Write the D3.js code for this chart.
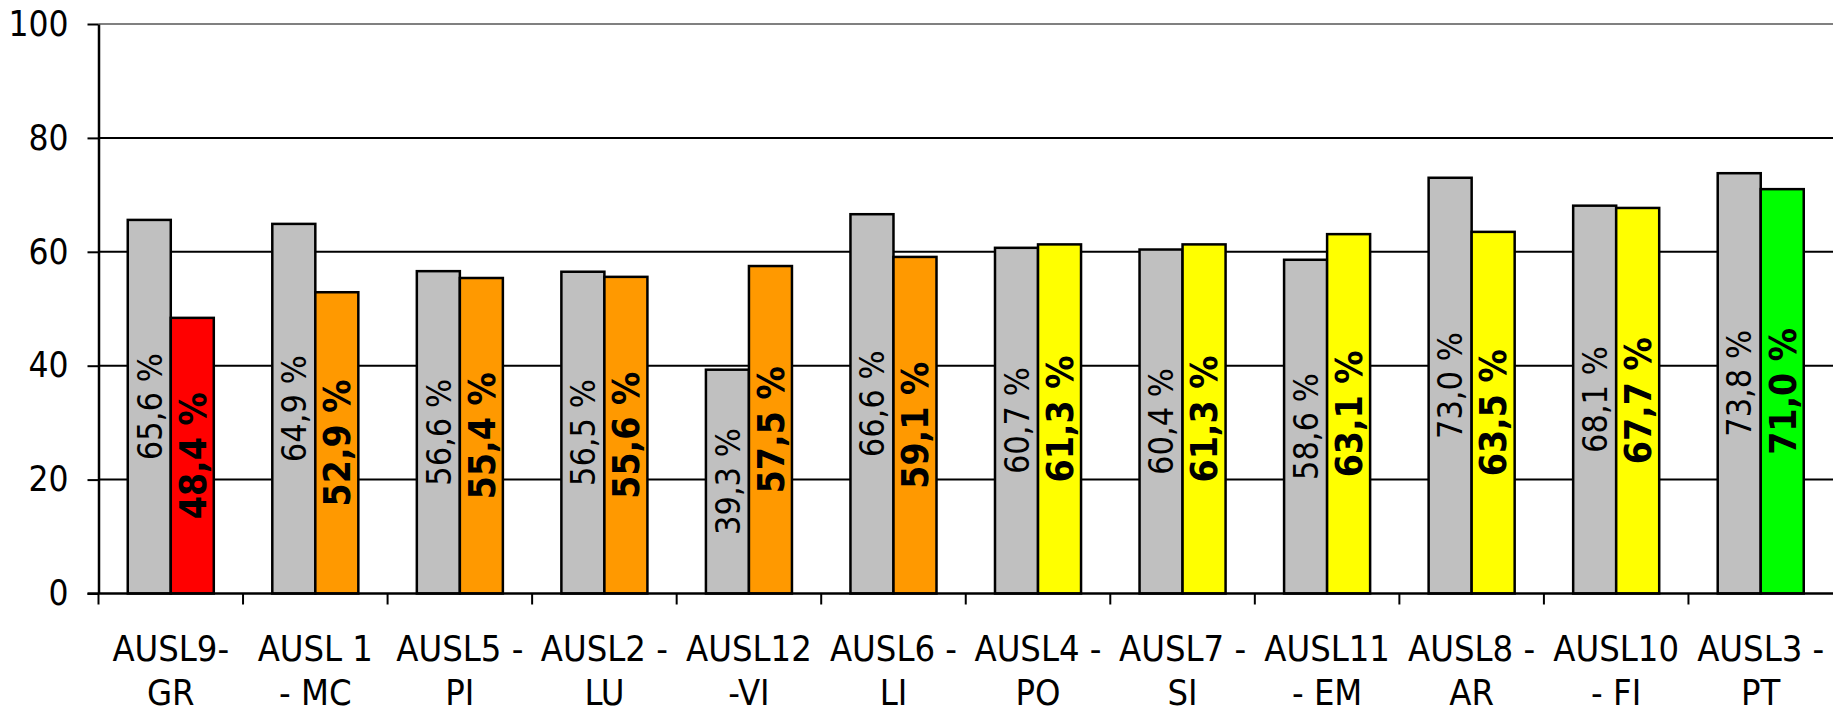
<!DOCTYPE html>
<html>
<head>
<meta charset="utf-8">
<script src="https://cdn.jsdelivr.net/npm/d3@7"></script>
<style>
  body { margin: 0; background: #fff; }
  svg text { font-family: "DejaVu Sans Condensed", "DejaVu Sans", sans-serif; }
</style>
</head>
<body>
<div id="chart"></div>
<script>
// categories (two-line labels)
const categories = ['AUSL9-|GR', 'AUSL 1|- MC', 'AUSL5 -|PI', 'AUSL2 -|LU', 'AUSL12|-VI', 'AUSL6 -|LI',
    'AUSL4 -|PO', 'AUSL7 -|SI', 'AUSL11|- EM', 'AUSL8 -|AR', 'AUSL10|- FI', 'AUSL3 -|PT']
const prevValues = [65.6, 64.9, 56.6, 56.5, 39.3, 66.6, 60.7, 60.4, 58.6, 73.0, 68.1, 73.8]
const currValues = [48.4, 52.9, 55.4, 55.6, 57.5, 59.1, 61.3, 61.3, 63.1, 63.5, 67.7, 71.0]
const currClass = ['red', 'orange', 'orange', 'orange', 'orange', 'orange',
    'yellow', 'yellow', 'yellow', 'yellow', 'yellow', 'green']
const yTicks = [0, 20, 40, 60, 80, 100]

const classColor = {red: '#ff0000', orange: '#ff9900', yellow: '#ffff00', green: '#00ff00'}

const width = 1833, height = 714
const margin = {top: 24, right: 0, bottom: 120.5, left: 98.5}

const svg = d3.select('#chart').append('svg')
    .attr('width', width)
    .attr('height', height)

const x = d3.scaleBand()
    .domain(categories)
    .range([margin.left, width - margin.right])

const xSub = d3.scaleBand()
    .domain(['prev', 'curr'])
    .range([0, x.bandwidth()])
    .paddingOuter(0.68)

const y = d3.scaleLinear()
    .domain([0, 100])
    .range([height - margin.bottom, margin.top])

// gridlines
svg.append('g').selectAll('line.grid').data(yTicks.filter(d => d > 0))
    .join('line')
    .attr('class', 'grid')
    .attr('x1', margin.left)
    .attr('x2', width)
    .attr('y1', d => y(d))
    .attr('y2', d => y(d))
    .attr('stroke', d => d === 100 ? '#808080' : '#000')
    .attr('stroke-width', 2)

// y axis
const yAxis = d3.axisLeft(y)
    .tickValues(yTicks)
    .tickSize(11)
    .tickSizeOuter(0)
    .tickPadding(19)

const yAxisG = svg.append('g')
    .attr('transform', `translate(${margin.left},0)`)
    .call(yAxis)
yAxisG.select('.domain').attr('stroke-width', 2.5)
yAxisG.selectAll('.tick line').attr('stroke-width', 2)
yAxisG.selectAll('.tick text')
    .style('font-size', '35px')
    .attr('fill', '#000')

// bars
const rows = categories.map((c, i) => ({cat: c, prev: prevValues[i], curr: currValues[i], cls: currClass[i]}))

const groups = svg.append('g').selectAll('g.cat').data(rows)
    .join('g')
    .attr('class', 'cat')
    .attr('transform', d => `translate(${x(d.cat)},0)`)

const bars = groups.selectAll('g.bar').data(d => [
        {key: 'prev', value: d.prev, fill: '#c0c0c0'},
        {key: 'curr', value: d.curr, fill: classColor[d.cls]}
    ])
    .join('g')
    .attr('class', 'bar')

bars.append('rect')
    .attr('x', d => xSub(d.key))
    .attr('y', d => y(d.value))
    .attr('width', xSub.bandwidth())
    .attr('height', d => y(0) - y(d.value))
    .attr('fill', d => d.fill)
    .attr('stroke', '#000')
    .attr('stroke-width', 2.5)

// value labels, rotated inside the bars
bars.append('text')
    .attr('transform', d => `translate(${xSub(d.key) + xSub.bandwidth() / 2},${(y(d.value) + y(0)) / 2}) rotate(-90)`)
    .attr('text-anchor', 'middle')
    .attr('dy', '0.36em')
    .style('font-size', d => d.key === 'prev' ? '34px' : '37px')
    .style('font-weight', d => d.key === 'prev' ? 'normal' : 'bold')
    .attr('fill', '#000')
    .text(d => d3.format('.1f')(d.value).replace('.', ',') + ' %')

// x axis line + ticks on band boundaries
const gX = svg.append('g')
gX.append('line')
    .attr('x1', margin.left - 11)
    .attr('x2', width)
    .attr('y1', y(0))
    .attr('y2', y(0))
    .attr('stroke', '#000')
    .attr('stroke-width', 2.5)

gX.selectAll('line.xtick').data(categories)
    .join('line')
    .attr('class', 'xtick')
    .attr('x1', d => x(d))
    .attr('x2', d => x(d))
    .attr('y1', y(0))
    .attr('y2', y(0) + 11)
    .attr('stroke', '#000')
    .attr('stroke-width', 2)

const xLabels = gX.selectAll('text.xlabel').data(categories)
    .join('text')
    .attr('class', 'xlabel')
    .attr('text-anchor', 'middle')
    .style('font-size', '36px')
    .attr('fill', '#000')

xLabels.selectAll('tspan').data(d => d.split('|').map(t => ({t, cx: x(d) + x.bandwidth() / 2})))
    .join('tspan')
    .attr('x', d => d.cx)
    .attr('y', (d, i) => 661 + i * 44)
    .text(d => d.t)
</script>
</body>
</html>
